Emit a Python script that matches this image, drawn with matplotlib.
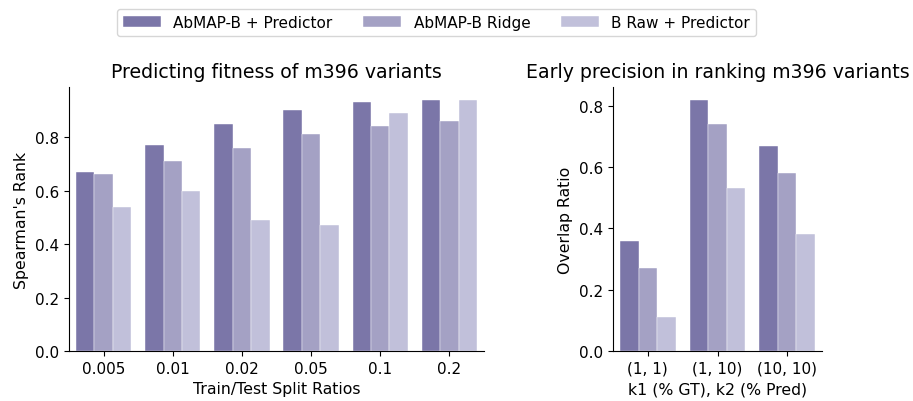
import matplotlib
matplotlib.use("Agg")
import matplotlib.pyplot as plt
import numpy as np

series = ["AbMAP-B + Predictor", "AbMAP-B Ridge", "B Raw + Predictor"]
colors = ["#7b76a8", "#a4a1c4", "#c1c0da"]

split_ratios = ["0.005", "0.01", "0.02", "0.05", "0.1", "0.2"]
fit_abmap_pred = [0.67, 0.77, 0.85, 0.90, 0.93, 0.94]
fit_abmap_ridge = [0.66, 0.71, 0.76, 0.81, 0.84, 0.86]
fit_raw_pred = [0.54, 0.60, 0.49, 0.47, 0.89, 0.94]

k_labels = ["(1, 1)", "(1, 10)", "(10, 10)"]
ov_abmap_pred = [0.36, 0.82, 0.67]
ov_abmap_ridge = [0.27, 0.74, 0.58]
ov_raw_pred = [0.11, 0.53, 0.38]

fig = plt.figure(figsize=(9.13, 4.02), dpi=100)
ax1 = fig.add_axes([69/913, 1-352/402, 415/913, 264/402])
ax2 = fig.add_axes([613/913, 1-352/402, 209/913, 264/402])

def draw(ax, labels, data):
    n = len(labels)
    x = np.arange(n)
    w = 0.8 / 3
    handles = []
    for i, (vals, c, name) in enumerate(zip(data, colors, series)):
        h = ax.bar(x - 0.4 + w * (i + 0.5), vals, width=w, color=c,
                   edgecolor="white", linewidth=0.3, label=name)
        handles.append(h)
    ax.set_xticks(x)
    ax.set_xticklabels(labels)
    ax.set_xlim(-0.5, n - 0.5)
    ax.spines["top"].set_visible(False)
    ax.spines["right"].set_visible(False)
    ax.tick_params(labelsize=11)
    return handles

handles = draw(ax1, split_ratios, [fit_abmap_pred, fit_abmap_ridge, fit_raw_pred])
ax1.set_ylim(0, max(fit_abmap_pred + fit_raw_pred) * 1.05)
ax1.set_yticks([0.0, 0.2, 0.4, 0.6, 0.8])
ax1.set_title("Predicting fitness of m396 variants", fontsize=13.6, pad=7)
ax1.set_xlabel("Train/Test Split Ratios", fontsize=11.3)
ax1.set_ylabel("Spearman's Rank", fontsize=11.3)

draw(ax2, k_labels, [ov_abmap_pred, ov_abmap_ridge, ov_raw_pred])
ax2.set_ylim(0, max(ov_abmap_pred) * 1.05)
ax2.set_yticks([0.0, 0.2, 0.4, 0.6, 0.8])
ax2.set_title("Early precision in ranking m396 variants", fontsize=13.6, pad=7)
ax2.set_xlabel("k1 (% GT), k2 (% Pred)", fontsize=11.3)
ax2.set_ylabel("Overlap Ratio", fontsize=11.3)

fig.legend(handles=handles, labels=series, loc="upper center",
           bbox_to_anchor=(436.5/913, 0.995), ncol=3, fontsize=11,
           frameon=True, columnspacing=2.0, handlelength=2.5)

fig.savefig("out.png", dpi=100)
